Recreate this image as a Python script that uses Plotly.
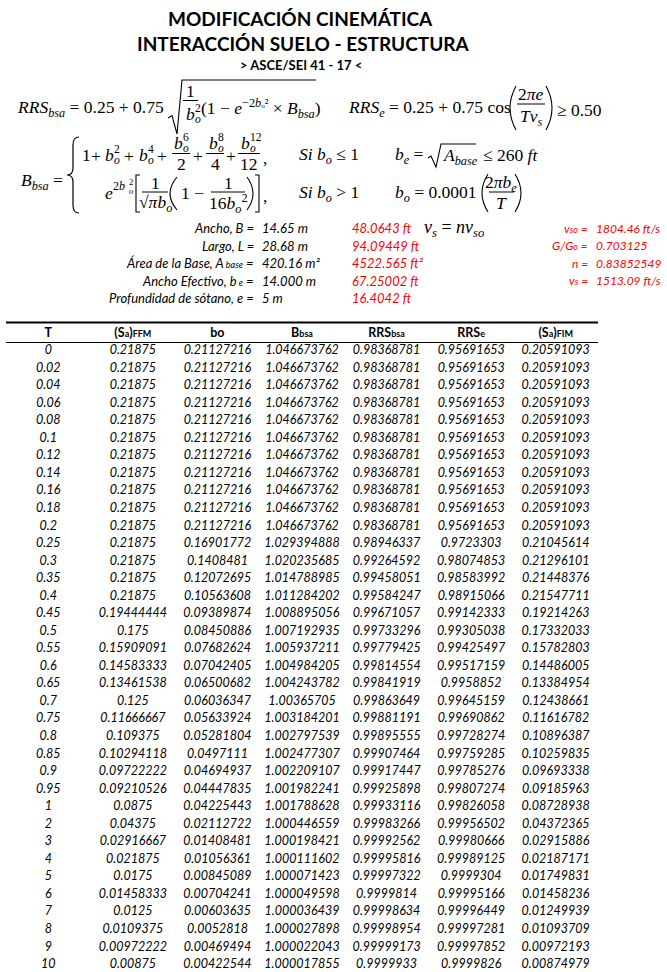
import plotly.graph_objects as go

# ---------------- data ----------------
T = [0, 0.02, 0.04, 0.06, 0.08, 0.1, 0.12, 0.14, 0.16, 0.18, 0.2, 0.25, 0.3, 0.35, 0.4,
     0.45, 0.5, 0.55, 0.6, 0.65, 0.7, 0.75, 0.8, 0.85, 0.9, 0.95, 1, 2, 3, 4, 5, 6, 7, 8, 9, 10]
Sa_FFM = [0.21875] * 15 + [0.19444444, 0.175, 0.15909091, 0.14583333, 0.13461538, 0.125,
                          0.11666667, 0.109375, 0.10294118, 0.09722222, 0.09210526, 0.0875,
                          0.04375, 0.02916667, 0.021875, 0.0175, 0.01458333, 0.0125, 0.0109375,
                          0.00972222, 0.00875]
bo = [0.21127216] * 11 + [0.16901772, 0.1408481, 0.12072695, 0.10563608, 0.09389874, 0.08450886,
                          0.07682624, 0.07042405, 0.06500682, 0.06036347, 0.05633924, 0.05281804,
                          0.0497111, 0.04694937, 0.04447835, 0.04225443, 0.02112722, 0.01408481,
                          0.01056361, 0.00845089, 0.00704241, 0.00603635, 0.0052818, 0.00469494,
                          0.00422544]
Bbsa = [1.046673762] * 11 + [1.029394888, 1.020235685, 1.014788985, 1.011284202, 1.008895056,
                             1.007192935, 1.005937211, 1.004984205, 1.004243782, 1.00365705,
                             1.003184201, 1.002797539, 1.002477307, 1.002209107, 1.001982241,
                             1.001788628, 1.000446559, 1.000198421, 1.000111602, 1.000071423,
                             1.000049598, 1.000036439, 1.000027898, 1.000022043, 1.000017855]
RRSbsa = [0.98368781] * 11 + [0.98946337, 0.99264592, 0.99458051, 0.99584247, 0.99671057,
                              0.99733296, 0.99779425, 0.99814554, 0.99841919, 0.99863649,
                              0.99881191, 0.99895555, 0.99907464, 0.99917447, 0.99925898,
                              0.99933116, 0.99983266, 0.99992562, 0.99995816, 0.99997322,
                              0.9999814, 0.99998634, 0.99998954, 0.99999173, 0.9999933]
RRSe = [0.95691653] * 11 + [0.9723303, 0.98074853, 0.98583992, 0.98915066, 0.99142333,
                            0.99305038, 0.99425497, 0.99517159, 0.9958852, 0.99645159,
                            0.99690862, 0.99728274, 0.99759285, 0.99785276, 0.99807274,
                            0.99826058, 0.99956502, 0.99980666, 0.99989125, 0.9999304,
                            0.99995166, 0.99996449, 0.99997281, 0.99997852, 0.9999826]
Sa_FIM = [0.20591093] * 11 + [0.21045614, 0.21296101, 0.21448376, 0.21547711, 0.19214263,
                              0.17332033, 0.15782803, 0.14486005, 0.13384954, 0.12438661,
                              0.11616782, 0.10896387, 0.10259835, 0.09693338, 0.09185963,
                              0.08728938, 0.04372365, 0.02915886, 0.02187171, 0.01749831,
                              0.01458236, 0.01249939, 0.01093709, 0.00972193, 0.00874979]

SM = "<span style='font-size:9px'>"
headers = ["T", "(S" + SM + "a</span>)" + SM + "FFM</span>", "bo", "B" + SM + "bsa</span>",
           "RRS" + SM + "bsa</span>", "RRS" + SM + "e</span>", "(S" + SM + "a</span>)" + SM + "FIM</span>"]

param_labels = ["Ancho, B =", "Largo, L =",
                "Área de la Base, A" + SM + " base</span> =",
                "Ancho Efectivo, b" + SM + " e</span> =", "Profundidad de sótano, e ="]
param_si = ["14.65 m", "28.68 m", "420.16 m²", "14.000 m", "5 m"]
param_ft = ["48.0643 ft", "94.09449 ft", "4522.565 ft²", "67.25002 ft", "16.4042 ft"]
soil_labels = ["v" + SM + "so</span> =", "G/G" + SM + "o</span> =", "n =", "v" + SM + "s</span> ="]
soil_values = ["1804.46 ft/s", "0.703125", "0.83852549", "1513.09 ft/s"]

title_lines = ["MODIFICACIÓN CINEMÁTICA", "INTERACCIÓN SUELO - ESTRUCTURA", "&gt; ASCE/SEI 41 - 17 &lt;"]


def fmt(v):
    s = repr(v)
    return s[:-2] if s.endswith(".0") else s


columns = [T, Sa_FFM, bo, Bbsa, RRSbsa, RRSe, Sa_FIM]

W, H = 667, 972
SERIF = "Liberation Serif"
SANS = "Lato"
RED = "#FF0000"
FS = 17.5  # formula font size

fig = go.Figure()

# table body as text traces on a dedicated axis pair
for ci, col in enumerate(columns):
    fig.add_trace(go.Scatter(
        x=[ci] * len(col), y=list(range(len(col))), text=[fmt(v) for v in col],
        mode="text", textposition="middle center", cliponaxis=False,
        textfont=dict(family=SANS, size=12.5, color="black", style="italic"),
        xaxis="x2", yaxis="y2", hoverinfo="skip", showlegend=False))
fig.add_trace(go.Scatter(
    x=list(range(len(headers))), y=[-1] * len(headers), text=headers,
    mode="text", textposition="middle center", cliponaxis=False,
    textfont=dict(family=SANS, size=12.5, color="black", weight="bold"),
    xaxis="x2", yaxis="y2", hoverinfo="skip", showlegend=False))

# table rules
tx0, tx1 = 6, 598
shapes = [
    dict(type="line", xref="x", yref="y", x0=tx0, x1=tx1, y0=322.5, y1=322.5, line=dict(color="black", width=2)),
    dict(type="line", xref="x", yref="y", x0=tx0, x1=tx1, y0=342.5, y1=342.5, line=dict(color="black", width=1)),
]

anns = []


def A(x, y, s, size=FS, anchor="left", color="black", family=SERIF, **kw):
    anns.append(dict(x=x, y=y, xref="x", yref="y", text=s, showarrow=False, xanchor=anchor,
                     yanchor="middle", font=dict(size=size, color=color, family=family, **kw)))


def hline(x0, x1, y, width=1.0):
    shapes.append(dict(type="line", xref="x", yref="y", x0=x0, x1=x1, y0=y, y1=y,
                       line=dict(color="black", width=width)))


def path(d, width=1.1):
    shapes.append(dict(type="path", xref="x", yref="y", path=d, line=dict(color="black", width=width)))


def bss(x, y, base, sub, sup, size=FS, bw=8.5):
    """italic base letter with stacked subscript / superscript"""
    A(x, y, "<i>" + base + "</i>", size)
    A(x + bw, y + 5, "<i>" + sub + "</i>", size * 0.66)
    A(x + bw, y - 6.5, sup, size * 0.66)


def lparen(xl, xr, y0, y1):
    ym = (y0 + y1) / 2
    path(f"M {xr} {y0} Q {2 * xl - xr} {ym} {xr} {y1}")


def rparen(xl, xr, y0, y1):
    ym = (y0 + y1) / 2
    path(f"M {xl} {y0} Q {2 * xr - xl} {ym} {xl} {y1}")


def lbrack(xl, xr, y0, y1):
    path(f"M {xr} {y0} L {xl} {y0} L {xl} {y1} L {xr} {y1}")


def rbrack(xl, xr, y0, y1):
    path(f"M {xl} {y0} L {xr} {y0} L {xr} {y1} L {xl} {y1}")


# titles
A(300, 18, "<b>" + title_lines[0] + "</b>", size=19, anchor="center", family=SANS)
A(303, 43, "<b>" + title_lines[1] + "</b>", size=19, anchor="center", family=SANS)
A(301, 65, "<b>" + title_lines[2] + "</b>", size=13, anchor="center", family=SANS)

# ---- RRSbsa ----
A(15, 108, "<i>RRS</i><sub><i>bsa</i></sub> = 0.25 + 0.75")
path("M 168 118 L 172 115.5 L 177 134 L 182 80 L 316 80")
A(190.5, 91, "1", anchor="center")
hline(183, 198, 100.5)
bss(184, 114, "b", "o", "2")
A(199, 108, "(1 − <i>e</i><sup>−2<i>b</i>ₒ²</sup> × <i>B</i><sub><i>bsa</i></sub>)")

# ---- RRSe ----
A(346, 108, "<i>RRS</i><sub><i>e</i></sub> = 0.25 + 0.75 cos")
lparen(510, 516, 86, 130)
A(531, 94, "2<i>πe</i>", anchor="center")
hline(517, 545, 104)
A(531, 117, "<i>Tv</i><sub><i>s</i></sub>", anchor="center")
rparen(546, 552, 86, 130)
A(555, 110, "≥ 0.50")

# ---- Bbsa ----
A(19, 181, "<i>B</i><sub><i>bsa</i></sub> =")
path("M 79 137 Q 73 137 73 145 L 73 168 Q 73 175 67 175 Q 73 175 73 182 L 73 205 Q 73 213 79 213", width=1.2)
L1, L2 = 155, 193
A(80, L1, "1")
A(96, L1 + 1, "+", anchor="center")
bss(103, L1, "b", "o", "2")
A(129, L1 + 1, "+", anchor="center")
bss(137, L1, "b", "o", "4")
A(162, L1 + 1, "+", anchor="center")
bss(172, 143, "b", "o", "6")
hline(172, 190, 153.5)
A(181, 164, "2", anchor="center")
A(198, L1 + 1, "+", anchor="center")
bss(207, 143, "b", "o", "8")
hline(206, 224, 153.5)
A(215, 164, "4", anchor="center")
A(231, L1 + 1, "+", anchor="center")
bss(239, 143, "b", "o", "12")
hline(238, 260, 153.5)
A(249, 164, "12", anchor="center")
A(261, L1 + 3, ",")
A(297, L1, "<i>Si b</i><sub><i>o</i></sub> ≤ 1")
A(393, L1, "<i>b</i><sub><i>e</i></sub> =")
path("M 428 158 L 431 156 L 436 167 L 441 144 L 476 144")
A(441, L1 + 1, "<i>A</i><sub><i>base</i></sub>")
A(481, L1, "≤ 260 <i>ft</i>")

A(103, L2, "<i>e</i>")
A(111, 186, "2<i>b</i>", size=12)
A(127, 190.5, "<i>o</i>", size=8.5)
A(127, 181.5, "2", size=8.5)
lbrack(136, 140, 175, 212)
A(155, 183, "1", anchor="center")
hline(142, 168, 192)
A(155, 203, "√<i>π</i><i>b</i><sub><i>o</i></sub>", anchor="center")
lparen(170, 177, 177, 210)
A(179, L2, "1 −")
A(228, 183, "1", anchor="center")
hline(211, 245, 192)
A(228, 203, "16<i>b</i><sub><i>o</i></sub><sup>2</sup>", anchor="center")
rparen(247, 253, 177, 210)
rbrack(255, 259, 175, 212)
A(261, L2 + 3, ",")
A(297, L2, "<i>Si b</i><sub><i>o</i></sub> > 1")
A(393, L2, "<i>b</i><sub><i>o</i></sub> = 0.0001")
lparen(482, 488, 174, 212)
A(501, 183, "2<i>πb</i><sub><i>e</i></sub>", anchor="center")
hline(489, 514, 192)
A(501, 203, "<i>T</i>", anchor="center")
rparen(515, 521, 174, 212)

# ---- parameters ----
py = [228, 245.5, 263, 280.5, 298]
for i in range(5):
    A(256, py[i], param_labels[i], size=13, anchor="right", family=SANS, style="italic")
    A(260, py[i], param_si[i], size=13, family=SANS, style="italic")
    A(350, py[i], param_ft[i], size=13, family=SANS, style="italic", color=RED)
A(422, 228, "<i>v</i><sub><i>s</i></sub> = <i>nv</i><sub><i>so</i></sub>", size=18)
for i in range(4):
    A(590, py[i], soil_labels[i], size=12, anchor="right", family=SANS, style="italic", color=RED)
    A(594, py[i], soil_values[i], size=12, family=SANS, style="italic", color=RED)

nrows = len(T)
row_top, row_bot = 333.4, 965.0  # header row centre / last row centre

fig.update_layout(
    width=W, height=H, margin=dict(l=0, r=0, t=0, b=0),
    paper_bgcolor="white", plot_bgcolor="white",
    xaxis=dict(range=[0, W], visible=False, domain=[0, 1]),
    yaxis=dict(range=[H, 0], visible=False, domain=[0, 1]),
    xaxis2=dict(range=[-0.5, 6.5], visible=False, domain=[tx0 / W, tx1 / W], anchor="y2"),
    yaxis2=dict(range=[nrows - 1, -1], visible=False,
                domain=[1 - row_bot / H, 1 - row_top / H], anchor="x2"),
    shapes=shapes, annotations=anns, showlegend=False,
)
fig.add_trace(go.Scatter(x=[0], y=[0], mode="markers", marker=dict(opacity=0), hoverinfo="skip",
                         showlegend=False, xaxis="x", yaxis="y"))
fig.write_html("out.html", config={"displayModeBar": False},
               post_script="document.body.style.margin='0';document.body.style.padding='0';")
